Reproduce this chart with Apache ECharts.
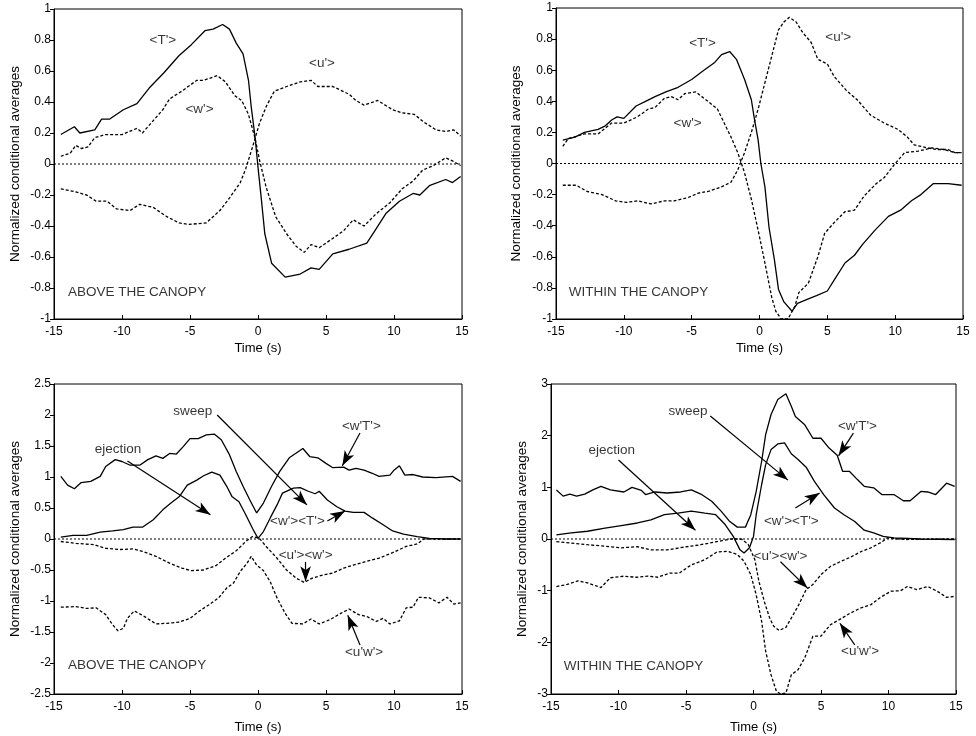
<!DOCTYPE html>
<html>
<head>
<meta charset="utf-8">
<script src="https://cdn.jsdelivr.net/npm/echarts@6/dist/echarts.min.js"></script>
<style>
  html, body { margin: 0; padding: 0; background: #fff; }
  #chart { width: 976px; height: 736px; }
</style>
</head>
<body>
<div id="chart"></div>
<script>
// ---- data: [time (s), normalized value] ----
// above the canopy, single quantities
var aboveT = [[-14.5,0.19],[-13.5,0.24],[-13.1,0.20],[-12.0,0.22],[-11.5,0.29],[-10.9,0.29],[-9.9,0.35],[-8.9,0.39],[-8.0,0.49],[-6.9,0.59],[-5.8,0.70],[-4.9,0.77],[-3.9,0.86],[-3.3,0.87],[-2.6,0.90],[-2.1,0.87],[-1.6,0.78],[-1.1,0.71],[-0.7,0.54],[-0.5,0.37],[-0.2,0.16],[0.0,-0.02],[0.25,-0.23],[0.5,-0.45],[1.0,-0.64],[2.0,-0.73],[3.1,-0.71],[3.9,-0.67],[4.5,-0.68],[5.5,-0.58],[6.7,-0.55],[8.0,-0.51],[8.6,-0.43],[9.4,-0.32],[10.4,-0.24],[11.4,-0.19],[11.9,-0.20],[12.6,-0.14],[13.8,-0.10],[14.3,-0.12],[14.9,-0.08]];
var aboveW = [[-14.5,0.05],[-13.8,0.07],[-13.4,0.12],[-13.0,0.10],[-12.5,0.11],[-12.0,0.17],[-11.2,0.19],[-10.0,0.19],[-8.9,0.23],[-8.5,0.20],[-7.7,0.28],[-7.0,0.35],[-6.5,0.42],[-5.6,0.47],[-4.5,0.54],[-4.0,0.54],[-3.0,0.57],[-2.4,0.53],[-1.7,0.44],[-1.2,0.41],[-0.7,0.32],[-0.2,0.16],[0.1,0.03],[0.6,-0.15],[1.3,-0.34],[2.1,-0.45],[2.8,-0.53],[3.4,-0.57],[3.9,-0.52],[4.5,-0.54],[5.5,-0.48],[6.3,-0.43],[7.0,-0.36],[7.8,-0.40],[8.7,-0.32],[9.7,-0.25],[10.6,-0.16],[11.4,-0.11],[12.1,-0.04],[12.9,-0.01],[13.8,0.04],[14.3,0.02],[14.9,-0.01]];
var aboveU = [[-14.5,-0.16],[-13.4,-0.18],[-12.6,-0.20],[-11.9,-0.24],[-11.1,-0.24],[-10.4,-0.29],[-9.4,-0.30],[-8.7,-0.26],[-7.7,-0.28],[-6.7,-0.34],[-5.8,-0.38],[-5.1,-0.39],[-3.8,-0.38],[-2.8,-0.30],[-2.1,-0.22],[-1.3,-0.12],[-0.9,-0.03],[-0.4,0.11],[0.1,0.26],[0.6,0.37],[1.2,0.47],[2.1,0.50],[3.1,0.53],[3.9,0.54],[4.4,0.50],[5.5,0.50],[6.7,0.45],[7.2,0.41],[7.8,0.38],[8.8,0.41],[9.9,0.35],[10.6,0.33],[11.5,0.32],[12.2,0.27],[13.1,0.22],[13.8,0.21],[14.4,0.22],[14.9,0.18]];

// within the canopy, single quantities
var withinT = [[-14.5,0.15],[-13.6,0.17],[-12.9,0.20],[-11.9,0.22],[-11.4,0.24],[-10.9,0.28],[-10.5,0.30],[-10.0,0.29],[-9.1,0.37],[-8.4,0.40],[-7.7,0.43],[-6.9,0.46],[-6.0,0.49],[-5.0,0.54],[-4.1,0.60],[-3.3,0.65],[-2.8,0.70],[-2.2,0.72],[-1.7,0.67],[-1.1,0.54],[-0.6,0.41],[-0.4,0.30],[-0.1,0.15],[0.1,0.0],[0.4,-0.15],[0.7,-0.41],[1.1,-0.62],[1.4,-0.81],[1.8,-0.89],[2.4,-0.95],[2.8,-0.90],[3.6,-0.87],[4.2,-0.85],[5.0,-0.82],[5.5,-0.75],[6.3,-0.64],[7.0,-0.59],[7.6,-0.52],[8.5,-0.43],[9.5,-0.34],[10.4,-0.30],[11.2,-0.24],[11.9,-0.20],[12.8,-0.13],[13.9,-0.13],[14.9,-0.14]];
var withinW = [[-14.5,0.11],[-14.1,0.16],[-12.9,0.19],[-11.9,0.19],[-10.9,0.26],[-10.0,0.26],[-9.0,0.30],[-8.2,0.35],[-7.7,0.36],[-7.0,0.42],[-6.5,0.43],[-6.0,0.41],[-5.5,0.45],[-4.7,0.46],[-3.8,0.40],[-3.1,0.35],[-2.6,0.26],[-2.1,0.17],[-1.6,0.07],[-1.1,-0.06],[-0.6,-0.23],[-0.1,-0.43],[0.4,-0.64],[0.9,-0.86],[1.2,-0.95],[1.6,-1.0],[2.1,-1.0],[2.6,-0.92],[2.9,-0.83],[3.6,-0.77],[4.3,-0.60],[4.8,-0.45],[5.5,-0.38],[6.3,-0.31],[7.0,-0.30],[7.7,-0.21],[8.6,-0.13],[9.2,-0.09],[10.0,0.0],[10.7,0.07],[11.7,0.08],[12.7,0.10],[13.6,0.09],[14.4,0.07],[14.9,0.07]];
var withinU = [[-14.5,-0.14],[-13.5,-0.14],[-12.7,-0.18],[-11.6,-0.20],[-10.6,-0.24],[-9.8,-0.25],[-9.0,-0.24],[-8.0,-0.26],[-7.0,-0.24],[-6.3,-0.24],[-5.3,-0.22],[-4.5,-0.19],[-3.8,-0.18],[-2.8,-0.15],[-2.1,-0.12],[-1.6,-0.04],[-1.1,0.07],[-0.6,0.20],[-0.1,0.35],[0.4,0.52],[0.9,0.69],[1.4,0.86],[1.8,0.91],[2.2,0.94],[2.7,0.91],[3.2,0.84],[3.8,0.78],[4.3,0.67],[5.0,0.64],[5.5,0.56],[6.4,0.47],[7.2,0.41],[8.2,0.31],[9.2,0.26],[10.2,0.22],[10.9,0.17],[11.4,0.12],[12.4,0.10],[13.1,0.09],[13.9,0.09],[14.4,0.07],[14.9,0.07]];

// above the canopy, products
var aboveWT = [[-14.5,1.01],[-14.0,0.87],[-13.5,0.81],[-13.0,0.91],[-12.3,0.93],[-11.6,1.01],[-11.2,1.17],[-10.5,1.28],[-10.0,1.25],[-9.4,1.19],[-8.7,1.19],[-8.1,1.28],[-7.5,1.34],[-7.0,1.30],[-6.5,1.38],[-6.0,1.37],[-5.5,1.49],[-5.0,1.62],[-4.4,1.62],[-3.8,1.68],[-3.2,1.69],[-2.7,1.60],[-2.1,1.36],[-1.6,1.09],[-1.1,0.85],[-0.6,0.63],[-0.1,0.42],[0.4,0.58],[1.0,0.85],[1.6,1.09],[2.3,1.31],[3.3,1.46],[3.8,1.33],[4.4,1.31],[5.0,1.22],[5.5,1.15],[6.3,1.16],[6.7,1.11],[7.2,1.14],[7.8,1.11],[8.4,1.06],[8.9,1.01],[9.7,1.03],[10.0,1.11],[10.4,1.18],[10.8,1.03],[11.4,1.04],[12.1,1.00],[13.1,0.99],[14.3,1.01],[14.9,0.93]];
var aboveWxT = [[-14.5,0.03],[-13.6,0.06],[-12.6,0.06],[-11.6,0.11],[-10.7,0.13],[-9.9,0.15],[-9.2,0.19],[-8.5,0.19],[-7.7,0.31],[-7.0,0.47],[-6.4,0.58],[-5.8,0.68],[-5.2,0.87],[-4.5,0.95],[-4.0,1.02],[-3.4,1.08],[-2.8,1.03],[-2.3,0.85],[-1.9,0.68],[-1.4,0.60],[-0.9,0.39],[-0.4,0.17],[0.0,0.01],[0.4,0.12],[0.9,0.34],[1.4,0.55],[1.8,0.74],[2.6,0.82],[3.1,0.83],[3.7,0.77],[4.2,0.73],[4.5,0.77],[5.1,0.63],[5.8,0.52],[6.4,0.45],[7.0,0.43],[7.8,0.43],[8.4,0.34],[9.2,0.23],[9.9,0.13],[10.7,0.08],[11.7,0.04],[12.6,0.01],[13.8,0.0],[14.9,0.0]];
var aboveUxW = [[-14.5,-0.04],[-13.4,-0.07],[-12.1,-0.09],[-11.2,-0.15],[-10.2,-0.17],[-9.2,-0.16],[-8.5,-0.20],[-7.5,-0.28],[-6.5,-0.39],[-5.6,-0.47],[-4.9,-0.51],[-4.0,-0.50],[-3.1,-0.43],[-2.4,-0.31],[-1.6,-0.19],[-0.9,-0.04],[-0.4,0.04],[0.1,0.01],[0.6,-0.12],[1.4,-0.31],[2.1,-0.50],[2.8,-0.63],[3.4,-0.70],[4.0,-0.63],[4.8,-0.58],[5.5,-0.55],[6.3,-0.47],[7.0,-0.42],[8.0,-0.36],[8.9,-0.31],[9.9,-0.22],[10.9,-0.12],[11.7,-0.08],[12.2,0.0],[12.9,0.0],[14.9,0.0]];
var aboveUW = [[-14.5,-1.10],[-13.4,-1.09],[-12.6,-1.12],[-11.9,-1.11],[-11.2,-1.22],[-10.7,-1.38],[-10.3,-1.48],[-9.9,-1.44],[-9.6,-1.28],[-9.1,-1.16],[-8.5,-1.23],[-8.0,-1.30],[-7.5,-1.37],[-6.7,-1.36],[-5.8,-1.34],[-5.0,-1.28],[-4.3,-1.16],[-3.6,-1.06],[-2.9,-0.95],[-2.3,-0.79],[-1.8,-0.71],[-1.3,-0.52],[-0.8,-0.39],[-0.5,-0.28],[-0.1,-0.42],[0.4,-0.51],[0.9,-0.69],[1.4,-0.95],[2.0,-1.20],[2.5,-1.36],[3.3,-1.37],[3.9,-1.29],[4.5,-1.37],[5.3,-1.30],[6.0,-1.21],[6.7,-1.13],[7.4,-1.22],[8.0,-1.25],[8.7,-1.33],[9.2,-1.28],[9.7,-1.37],[10.4,-1.32],[10.9,-1.11],[11.4,-1.10],[11.8,-0.94],[12.6,-0.95],[13.3,-1.03],[13.9,-0.94],[14.4,-1.05],[14.9,-1.03]];

// within the canopy, products
var withinWT = [[-14.6,0.95],[-14.1,0.83],[-13.6,0.87],[-13.1,0.83],[-12.5,0.87],[-11.9,0.95],[-11.3,1.02],[-10.6,0.95],[-9.6,0.91],[-9.0,1.00],[-8.3,0.94],[-8.0,0.86],[-7.3,0.91],[-6.4,0.89],[-5.4,0.91],[-4.6,0.95],[-3.9,0.87],[-3.1,0.73],[-2.4,0.54],[-1.8,0.35],[-1.2,0.23],[-0.6,0.23],[-0.2,0.47],[0.2,0.92],[0.6,1.50],[0.9,2.02],[1.3,2.41],[1.8,2.70],[2.4,2.81],[2.8,2.57],[3.1,2.37],[3.8,2.21],[4.4,1.95],[5.0,1.95],[5.6,1.76],[6.2,1.62],[6.6,1.31],[7.1,1.31],[7.7,1.15],[8.2,1.02],[8.9,0.99],[9.5,0.86],[10.4,0.86],[11.1,0.74],[11.6,0.74],[12.4,0.92],[12.9,0.91],[13.5,0.86],[14.3,1.08],[14.9,1.02]];
var withinWxT = [[-14.6,0.08],[-13.5,0.12],[-12.3,0.15],[-11.0,0.21],[-9.8,0.26],[-8.6,0.31],[-7.6,0.37],[-6.6,0.47],[-5.6,0.50],[-4.6,0.54],[-3.6,0.50],[-2.8,0.47],[-2.1,0.28],[-1.5,0.05],[-1.0,-0.21],[-0.7,-0.27],[-0.3,-0.17],[0.0,0.05],[0.2,0.47],[0.6,1.05],[0.9,1.44],[1.3,1.73],[1.8,1.84],[2.3,1.86],[2.8,1.65],[3.3,1.54],[3.9,1.39],[4.5,1.12],[5.2,0.86],[6.0,0.60],[6.7,0.47],[7.5,0.34],[8.2,0.17],[8.9,0.12],[9.6,0.05],[10.4,0.02],[12.4,0.0],[14.9,-0.01]];
var withinUxW = [[-14.6,-0.05],[-13.5,-0.08],[-12.3,-0.11],[-11.0,-0.14],[-9.8,-0.17],[-8.6,-0.15],[-7.6,-0.21],[-6.4,-0.21],[-5.2,-0.16],[-3.9,-0.11],[-2.7,-0.05],[-1.7,0.0],[-0.9,0.0],[-0.4,-0.10],[0.1,-0.40],[0.4,-0.82],[0.8,-1.21],[1.2,-1.53],[1.5,-1.69],[1.9,-1.77],[2.4,-1.71],[2.8,-1.53],[3.3,-1.30],[3.9,-0.98],[4.4,-0.88],[5.0,-0.69],[5.7,-0.53],[6.5,-0.43],[7.2,-0.35],[8.0,-0.24],[8.7,-0.17],[9.5,-0.06],[9.9,0.02],[11.2,-0.01],[14.9,0.0]];
var withinUW = [[-14.6,-0.92],[-13.8,-0.88],[-13.0,-0.81],[-12.3,-0.85],[-11.3,-0.94],[-10.6,-0.75],[-9.6,-0.72],[-8.7,-0.74],[-7.8,-0.72],[-7.1,-0.74],[-6.2,-0.66],[-5.5,-0.66],[-4.6,-0.50],[-3.6,-0.40],[-2.7,-0.25],[-1.9,-0.24],[-1.2,-0.30],[-0.7,-0.43],[-0.2,-0.69],[0.2,-1.08],[0.6,-1.59],[0.9,-2.17],[1.3,-2.63],[1.7,-2.95],[2.0,-3.0],[2.4,-2.98],[2.8,-2.63],[3.3,-2.53],[3.8,-2.30],[4.4,-1.88],[5.0,-1.88],[5.7,-1.66],[6.5,-1.54],[7.2,-1.43],[7.9,-1.34],[8.7,-1.27],[9.4,-1.13],[10.2,-1.01],[10.9,-1.00],[11.4,-0.92],[12.1,-0.98],[12.9,-0.92],[13.6,-1.01],[14.3,-1.13],[14.9,-1.11]];

var zeroLine = [[-15,0],[15,0]];

// text labels per panel: [x, y, text]
var labels1 = [[-7.0,0.80,"<T'>"],[4.7,0.65,"<u'>"],[-4.3,0.35,"<w'>"]];
var labels2 = [[-4.2,0.77,"<T'>"],[5.8,0.81,"<u'>"],[-5.3,0.26,"<w'>"]];
var labels3 = [[-4.8,2.06,"sweep"],[-10.3,1.44,"ejection"],[7.6,1.82,"<w'T'>"],[2.9,0.29,"<w'><T'>"],[3.5,-0.27,"<u'><w'>"],[7.8,-1.82,"<u'w'>"]];
var labels4 = [[-4.85,2.48,"sweep"],[-10.5,1.72,"ejection"],[7.7,2.19,"<w'T'>"],[2.8,0.35,"<w'><T'>"],[2.0,-0.33,"<u'><w'>"],[7.9,-2.17,"<u'w'>"]];
var titles = ["ABOVE THE CANOPY","WITHIN THE CANOPY","ABOVE THE CANOPY","WITHIN THE CANOPY"];
var titlePos = [[-14.0,-0.83],[-14.1,-0.83],[-14.0,-2.03],[-14.1,-2.46]];

// arrows: [x1, y1, x2, y2]
var arrows3 = [[-3.0,2.0,3.6,0.55],[-9.6,1.26,-3.5,0.39],[7.5,1.71,6.2,1.18],[5.1,0.29,6.4,0.45],[3.5,-0.37,3.5,-0.68],[7.5,-1.71,6.6,-1.23]];
var arrows4 = [[-3.2,2.38,2.55,1.14],[-10.0,1.53,-4.3,0.17],[7.4,2.05,6.3,1.61],[3.1,0.60,4.9,0.89],[2.0,-0.44,4.0,-0.95],[7.5,-2.05,6.4,-1.63]];

var yTicks = [
  {min: -1, max: 1, interval: 0.2},
  {min: -1, max: 1, interval: 0.2},
  {min: -2.5, max: 2.5, interval: 0.5},
  {min: -3, max: 3, interval: 1}
];

var chart = echarts.init(document.getElementById('chart'));
var font = 'Liberation Sans, Arial, sans-serif';

var grids = [
  {left: 54, top: 9, width: 408, height: 310},
  {left: 556, top: 8, width: 407, height: 311},
  {left: 54, top: 384, width: 408, height: 310},
  {left: 551, top: 384, width: 405, height: 310}
];
grids.forEach(function (g) { g.show = true; g.borderColor = '#000'; g.borderWidth = 1; g.backgroundColor = 'transparent'; });

var yNameGap = [32, 33, 32, 22];
var xNameGap = [23, 23, 27, 27];

var xAxes = grids.map(function (g, i) {
  return {
    type: 'value', gridIndex: i, min: -15, max: 15, interval: 5,
    name: 'Time (s)', nameLocation: 'middle', nameGap: xNameGap[i],
    nameTextStyle: {color: '#000', fontSize: 13, fontFamily: font},
    axisLine: {onZero: false, lineStyle: {color: '#000', width: 1}},
    axisTick: {inside: true, length: 4, lineStyle: {color: '#000'}},
    axisLabel: {color: '#000', fontSize: 12, fontFamily: font, margin: 7},
    splitLine: {show: false}
  };
});
var yAxes = grids.map(function (g, i) {
  return {
    type: 'value', gridIndex: i, min: yTicks[i].min, max: yTicks[i].max, interval: yTicks[i].interval,
    name: 'Normalized conditional averages', nameLocation: 'middle', nameGap: yNameGap[i],
    nameTextStyle: {color: '#000', fontSize: 13.5, fontFamily: font},
    axisLine: {onZero: false, lineStyle: {color: '#000', width: 1}},
    axisTick: {length: 4, lineStyle: {color: '#000'}},
    axisLabel: {color: '#000', fontSize: 12, fontFamily: font, margin: 3},
    splitLine: {show: false}
  };
});

function line(data, i, dashed, width) {
  return {
    type: 'line', xAxisIndex: i, yAxisIndex: i, data: data, showSymbol: false, symbol: 'none',
    lineStyle: {color: '#000', width: width || 1.3, type: dashed ? [3, 2] : 'solid'},
    silent: true, animation: false, z: 3
  };
}
function zero(i) {
  return {
    type: 'line', xAxisIndex: i, yAxisIndex: i, data: zeroLine, symbol: 'none',
    lineStyle: {color: '#000', width: 1, type: [2, 2]}, silent: true, animation: false, z: 2
  };
}
function textLayer(items, i) {
  return {
    type: 'scatter', xAxisIndex: i, yAxisIndex: i, data: items, symbolSize: 1,
    itemStyle: {color: 'rgba(0,0,0,0)'}, silent: true, animation: false, z: 5,
    label: {show: true, position: 'inside', color: '#000', fontSize: 13.5, fontFamily: font,
      textBorderWidth: 0,
      formatter: function (p) { return p.value[2]; }}
  };
}
function titleLayer(i) {
  return {
    type: 'scatter', xAxisIndex: i, yAxisIndex: i, data: [[titlePos[i][0], titlePos[i][1], titles[i]]], symbolSize: 1,
    itemStyle: {color: 'rgba(0,0,0,0)'}, silent: true, animation: false, z: 5,
    label: {show: true, position: 'right', distance: 0, color: '#000', fontSize: 13.5, fontFamily: font,
      textBorderWidth: 0,
      formatter: function (p) { return p.value[2]; }}
  };
}
function arrowLayer(list, i) {
  return {
    type: 'line', xAxisIndex: i, yAxisIndex: i, data: [], symbol: 'none', silent: true, animation: false,
    markLine: {
      silent: true, animation: false, symbol: ['none', 'arrow'], symbolSize: [8, 15],
      label: {show: false},
      lineStyle: {color: '#000', width: 1.2, type: 'solid'},
      data: list.map(function (a) { return [{coord: [a[0], a[1]]}, {coord: [a[2], a[3]]}]; })
    }
  };
}

var series = [
  zero(0), line(aboveT, 0, false), line(aboveW, 0, true), line(aboveU, 0, true), textLayer(labels1, 0), titleLayer(0),
  zero(1), line(withinT, 1, false), line(withinW, 1, true), line(withinU, 1, true), textLayer(labels2, 1), titleLayer(1),
  zero(2), line(aboveWT, 2, false), line(aboveWxT, 2, false), line(aboveUxW, 2, true), line(aboveUW, 2, true),
  textLayer(labels3, 2), titleLayer(2), arrowLayer(arrows3, 2),
  zero(3), line(withinWT, 3, false), line(withinWxT, 3, false), line(withinUxW, 3, true), line(withinUW, 3, true),
  textLayer(labels4, 3), titleLayer(3), arrowLayer(arrows4, 3)
];

chart.setOption({
  animation: false,
  backgroundColor: '#fff',
  grid: grids,
  xAxis: xAxes,
  yAxis: yAxes,
  series: series
});
</script>
</body>
</html>
